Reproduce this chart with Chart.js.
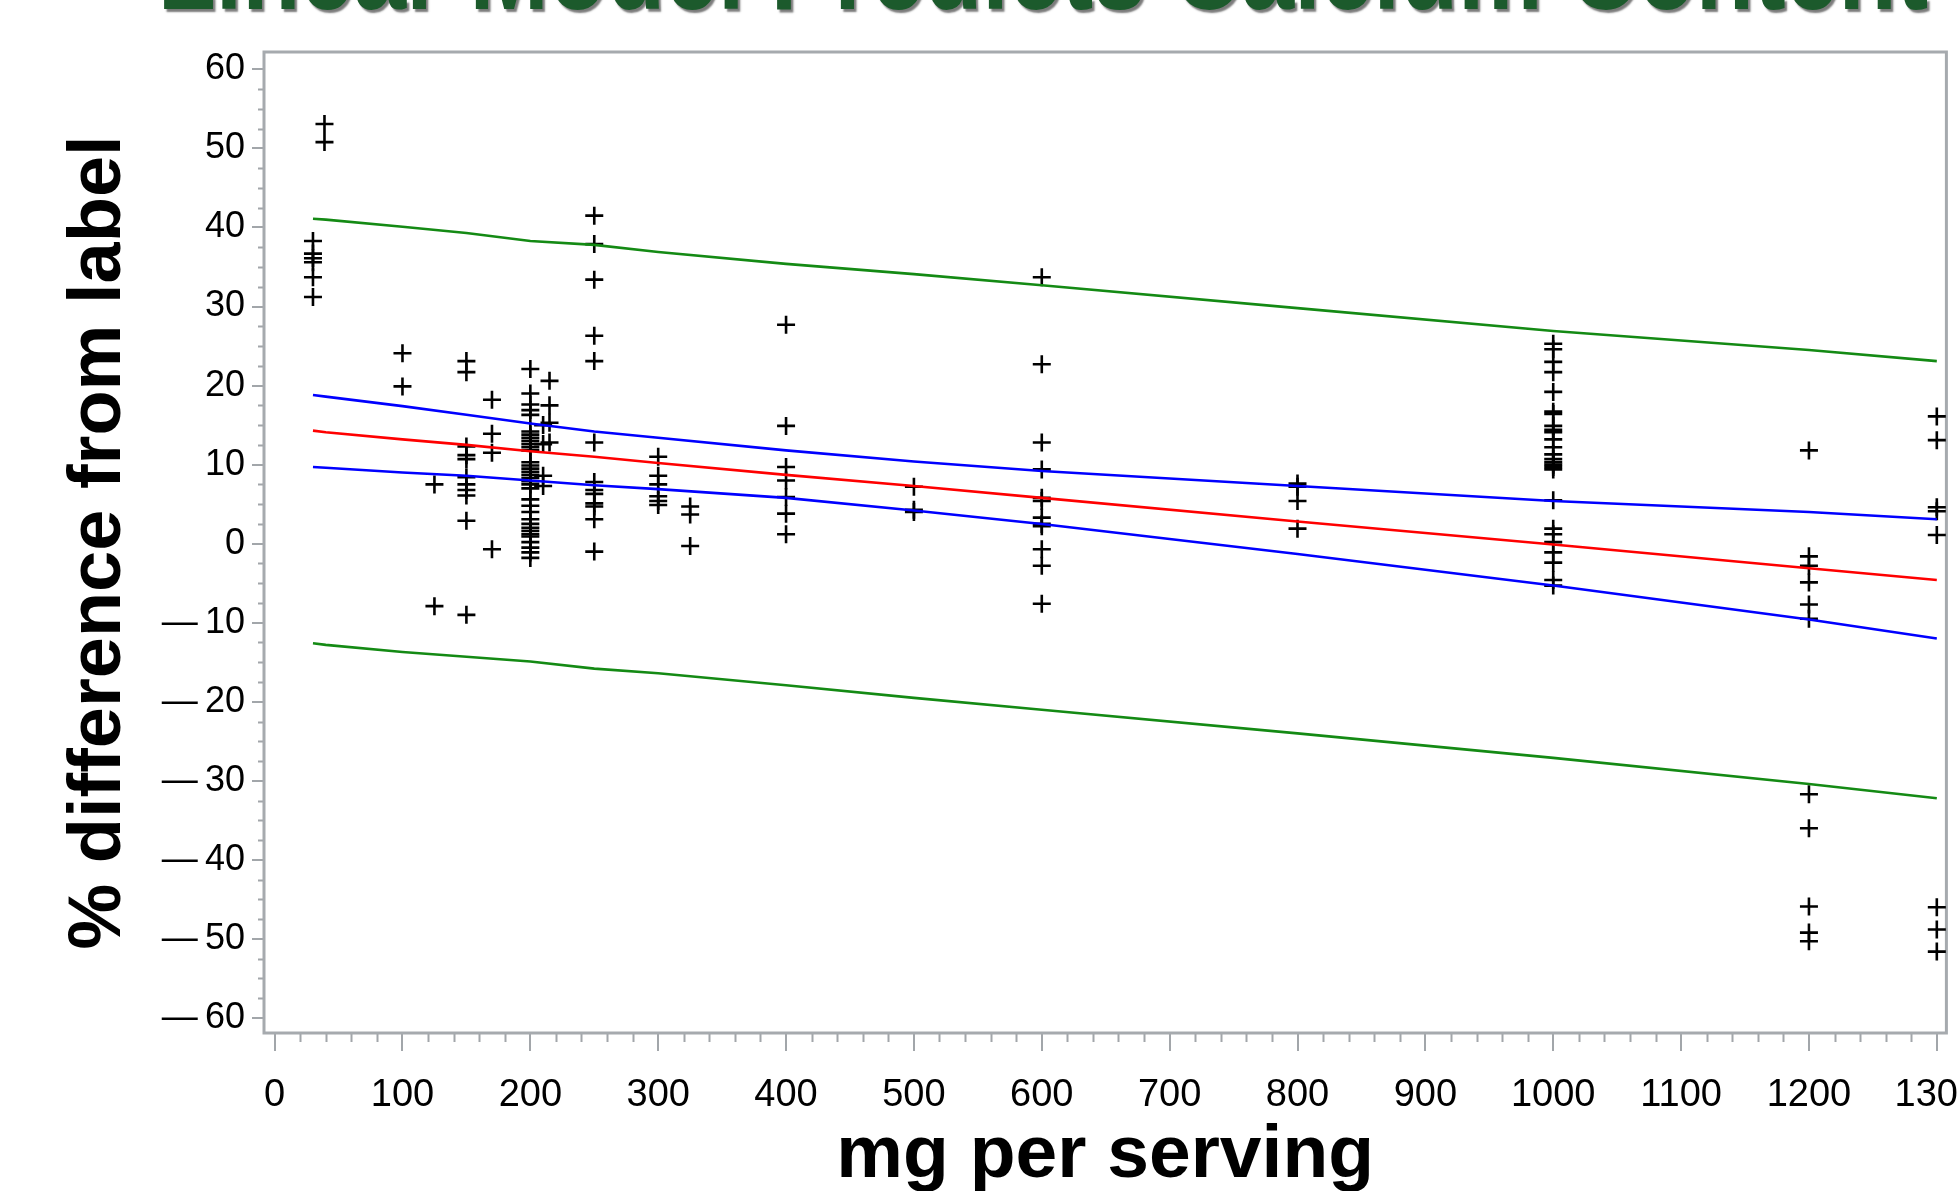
<!DOCTYPE html>
<html><head><meta charset="utf-8">
<script src="https://cdn.jsdelivr.net/npm/chart.js@4"></script>
<style>
html,body{margin:0;padding:0;background:#fff;overflow:hidden;}
#wrap{position:relative;width:1958px;height:1191px;overflow:hidden;}
#title{position:absolute;left:-1000px;top:-89px;width:4086px;text-align:center;font:bold 116px/116px 'Liberation Sans',Arial,sans-serif;color:#1c5a2c;text-shadow:3px 3px 2px rgba(90,90,90,0.8);white-space:nowrap;z-index:2;transform:scaleX(0.82);transform-origin:2043px 0;}
canvas{position:absolute;left:0;top:0;}
</style></head>
<body><div id="wrap"><div id="title">Linear Model Predicts Calcium Content</div><canvas id="c" width="1958" height="1191"></canvas></div>
<script>
// ---- observed % difference from label, grouped by labelled mg per serving ----
const pct30   = [38.3, 36.7, 36.1, 35.6, 33.7, 31.2];
const pct40   = [53.1, 50.8];
const pct100  = [24.1, 19.9];
const pct125  = [7.5, -7.9];
const pct150  = [23.1, 21.7, 12.3, 11.2, 10.7, 8.4, 7.5, 6.8, 6.1, 2.9, -9.0];
const pct170  = [18.2, 13.9, 11.5, -0.7];
const pct200  = [22.1, 19.0, 17.6, 16.9, 16.3, 14.2, 13.8, 13.4, 13.0, 12.6, 12.2, 11.8, 10.3, 9.9, 9.5, 9.1, 8.7, 8.3, 7.9, 7.5, 7.0, 5.6, 4.8, 4.0, 3.1, 2.5, 2.0, 1.6, 1.2, 0.9, 0.2, -0.5, -1.1, -1.8];
const pct210  = [15.0, 12.6, 8.6, 7.3];
const pct215  = [20.6, 17.5, 15.3, 12.8];
const pct250  = [41.5, 37.9, 33.4, 26.3, 23.1, 12.8, 7.8, 6.8, 6.3, 5.1, 4.7, 3.1, -1.0];
const pct300  = [11.0, 8.6, 7.5, 6.0, 5.4, 4.9];
const pct325  = [4.7, 3.7, -0.3];
const pct400  = [27.7, 14.9, 9.7, 8.0, 5.9, 3.8, 1.2];
const pct500  = [7.2, 4.3, 4.0];
const pct600  = [33.7, 22.7, 12.8, 9.4, 5.8, 5.4, 3.3, 2.5, 2.2, -0.7, -2.8, -7.6];
const pct800  = [7.6, 7.2, 5.4, 1.9];
const pct1000 = [25.3, 24.6, 23.0, 21.7, 19.2, 16.7, 16.4, 14.9, 14.4, 14.1, 13.2, 12.2, 11.3, 10.7, 10.3, 10.0, 9.7, 9.4, 5.5, 1.9, 1.2, 0.2, -1.1, -2.4, -4.6, -5.3];
const pct1200 = [11.8, -1.6, -2.8, -4.9, -7.7, -9.5, -31.7, -36.0, -45.9, -49.2, -50.3];
const pct1300 = [16.1, 13.1, 4.6, 4.1, 1.1, -46.0, -48.8, -51.6];

const doses = [30, 39, 100, 125, 150, 170, 200, 210, 215, 250, 300, 325, 400, 500, 600, 800, 1000, 1200, 1300];
const pctByDose = [pct30, pct40, pct100, pct125, pct150, pct170, pct200, pct210, pct215, pct250, pct300, pct325, pct400, pct500, pct600, pct800, pct1000, pct1200, pct1300];

// ---- fitted line, 95% confidence and prediction limits ----
const fitDose   = [30, 40, 100, 150, 200, 250, 300, 400, 500, 600, 800, 1000, 1200, 1300];
const fitLine   = [14.3, 14.1, 13.2, 12.5, 11.7, 11.0, 10.2, 8.7, 7.3, 5.8, 2.8, -0.1, -3.1, -4.6];
const confUpper = [18.8, 18.6, 17.4, 16.3, 15.2, 14.2, 13.4, 11.8, 10.4, 9.2, 7.3, 5.4, 4.0, 3.1];
const confLower = [9.7, 9.6, 9.0, 8.6, 8.0, 7.4, 6.9, 5.8, 4.2, 2.5, -1.3, -5.3, -9.6, -12.0];
const predUpper = [41.1, 41.0, 40.1, 39.3, 38.3, 37.8, 36.9, 35.4, 34.1, 32.7, 29.8, 26.9, 24.5, 23.1];
const predLower = [-12.6, -12.8, -13.7, -14.3, -14.9, -15.8, -16.4, -17.9, -19.5, -21.0, -24.0, -27.1, -30.4, -32.2];

// ---- tick labels ----
const xTicks = [0, 100, 200, 300, 400, 500, 600, 700, 800, 900, 1000, 1100, 1200, 1300];
const yTicks = [-60, -50, -40, -30, -20, -10, 0, 10, 20, 30, 40, 50, 60];

const SANS = "'Liberation Sans',Arial,sans-serif";
const tickGray = '#a2a6aa';

const scatterPts = doses.flatMap((d, i) => pctByDose[i].map(p => ({x: d, y: p})));
const linePts = arr => fitDose.map((d, i) => ({x: d, y: arr[i]}));

const lineDs = (arr, color) => ({
  type: 'line', data: linePts(arr), borderColor: color, borderWidth: 2.6,
  pointRadius: 0, fill: false, tension: 0, order: 1, clip: false
});

const framePlugin = {
  id: 'frame',
  beforeDatasetsDraw(chart) {
    const {ctx, chartArea: a, scales: {x, y}} = chart;
    ctx.save();
    ctx.strokeStyle = tickGray;
    ctx.lineWidth = 2;
    ctx.beginPath();
    for (let v = 0; v <= 1300; v += 20) {
      if (v % 100 === 0) continue;
      const px = Math.round(x.getPixelForValue(v)) + 0.5;
      ctx.moveTo(px, a.bottom); ctx.lineTo(px, a.bottom + 9);
    }
    for (let v = -60; v <= 60; v += 2.5) {
      if (v % 10 === 0) continue;
      const py = Math.round(y.getPixelForValue(v)) + 0.5;
      ctx.moveTo(a.left - 6, py); ctx.lineTo(a.left, py);
    }
    ctx.stroke();
    ctx.strokeStyle = '#a6aaae';
    ctx.lineWidth = 3;
    ctx.strokeRect(a.left, a.top, a.right - a.left, a.bottom - a.top);
    ctx.restore();
  }
};

new Chart(document.getElementById('c'), {
  type: 'scatter',
  data: {
    datasets: [
      lineDs(predUpper, '#148a14'),
      lineDs(predLower, '#148a14'),
      lineDs(confUpper, '#0000ff'),
      lineDs(confLower, '#0000ff'),
      lineDs(fitLine, '#ff0000'),
      {
        type: 'scatter', data: scatterPts, pointStyle: 'cross', pointRadius: 9,
        borderColor: '#000', backgroundColor: '#000', pointBorderWidth: 2.6, borderWidth: 2.6,
        order: 10, clip: false
      }
    ]
  },
  options: {
    responsive: false, animation: false, devicePixelRatio: 1,
    layout: {padding: {top: 52, right: 5, left: 0, bottom: 0}},
    plugins: {legend: {display: false}, tooltip: {enabled: false}, title: {display: false}},
    scales: {
      x: {
        type: 'linear', min: -8.3, max: 1307.5,
        afterBuildTicks: s => { s.ticks = xTicks.map(v => ({value: v})); },
        afterFit: s => { s.height = 158; s.paddingLeft = 0; s.paddingRight = 0; },
        grid: {drawOnChartArea: false, drawTicks: true, tickLength: 18, color: tickGray, lineWidth: 2},
        border: {display: false},
        ticks: {padding: 22, color: '#000', autoSkip: false, maxRotation: 0,
                font: {family: SANS, size: 38}, callback: v => String(v)},
        title: {display: true, text: 'mg per serving', color: '#000',
                font: {family: SANS, size: 75, weight: 'bold', lineHeight: 0.93},
                padding: {top: 0, bottom: 0}}
      },
      y: {
        type: 'linear', min: -61.9, max: 62.2,
        afterBuildTicks: s => { s.ticks = yTicks.map(v => ({value: v})); },
        afterFit: s => { s.width = 264; s.paddingTop = 0; s.paddingBottom = 0; },
        grid: {drawOnChartArea: false, drawTicks: true, tickLength: 12, color: tickGray, lineWidth: 2},
        border: {display: false},
        ticks: {padding: 7, color: '#000', font: {family: SANS, size: 36},
                callback: v => v < 0 ? '\u2014\u2009' + Math.abs(v) : String(v)},
        title: {display: true, text: '% difference from label', color: '#000',
                font: {family: SANS, size: 74, weight: 'bold', lineHeight: 1.2},
                padding: {top: 55, bottom: 0}}
      }
    }
  },
  plugins: [framePlugin]
});
</script></body></html>
